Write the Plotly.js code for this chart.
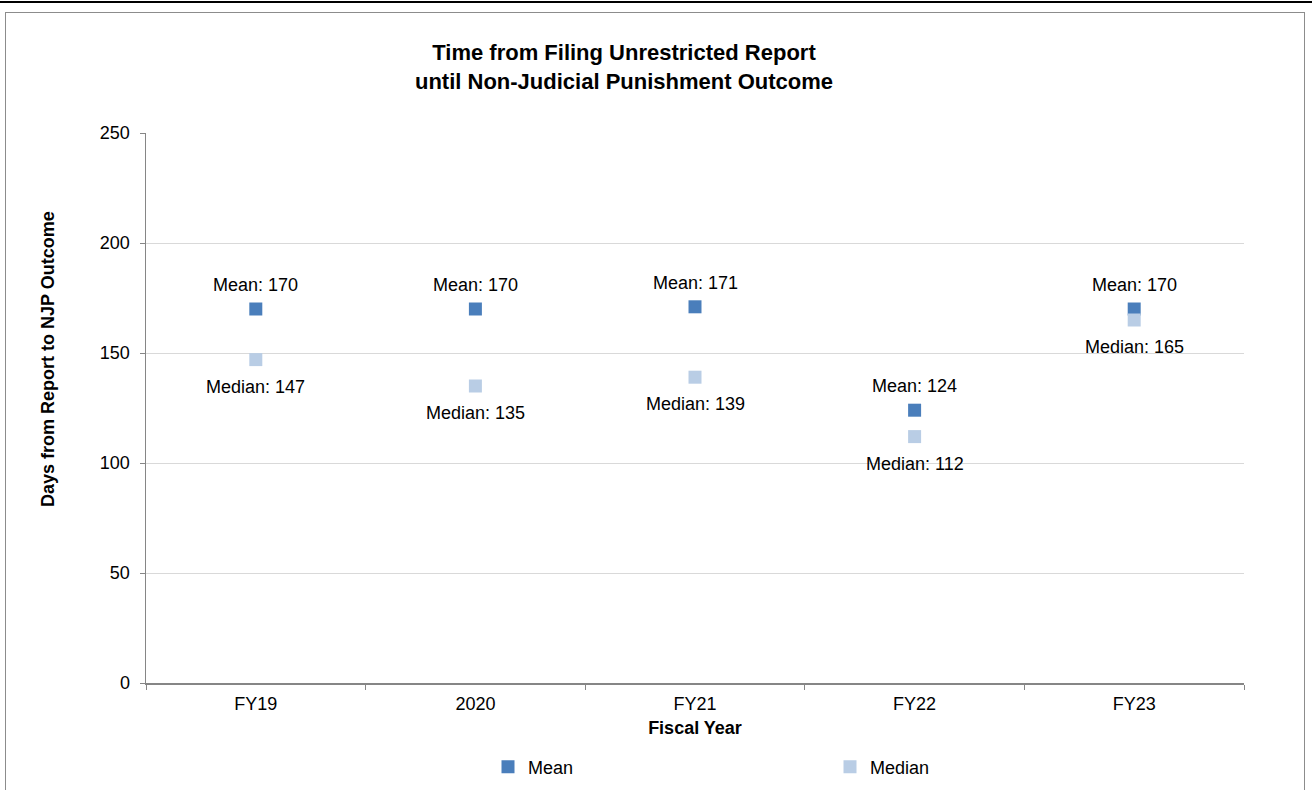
<!DOCTYPE html>
<html>
<head>
<meta charset="utf-8">
<script src="https://cdn.plot.ly/plotly-3.0.1.min.js"></script>
<style>
html,body{margin:0;padding:0;background:#fff;}
#wrap{position:relative;width:1312px;height:790px;overflow:hidden;}
#chart{position:absolute;left:0;top:0;width:1312px;height:790px;}
#topline{position:absolute;left:0;top:1px;width:1312px;height:2px;background:#000;pointer-events:none;}
#frame{position:absolute;left:5px;top:12px;width:1300px;height:800px;border:1px solid #8c8c8c;box-sizing:border-box;pointer-events:none;}
</style>
</head>
<body>
<div id="wrap">
<div id="chart"></div>
<div id="topline"></div>
<div id="frame"></div>
</div>
<script>
const categories = ["FY19", "2020", "FY21", "FY22", "FY23"];
const meanValues = [170, 170, 171, 124, 170];
const medianValues = [147, 135, 139, 112, 165];
const meanLabels = meanValues.map(v => "Mean: " + v);
const medianLabels = medianValues.map(v => "Median: " + v);

const FONT = "Liberation Sans, Arial, sans-serif";

const traces = [
  {
    type: "scatter", mode: "markers", name: "Mean",
    x: categories, y: meanValues,
    marker: {symbol: "square", size: 13, color: "#4a7ebb"},
    cliponaxis: false
  },
  {
    type: "scatter", mode: "markers", name: "Median",
    x: categories, y: medianValues,
    marker: {symbol: "square", size: 13, color: "#b9cde5"},
    cliponaxis: false
  }
];

const L = 146, R = 68, T = 133, B = 107;
const W = 1312, H = 790;
const pw = W - L - R, ph = H - T - B;

const labelAnnotations = [];
categories.forEach((c, i) => {
  // x given as category index so that numeric-looking names (e.g. "2020") map correctly
  labelAnnotations.push({
    x: i, y: meanValues[i], xref: "x", yref: "y",
    text: meanLabels[i], showarrow: false,
    xanchor: "center", yanchor: "middle", yshift: 24,
    font: {family: FONT, size: 18, color: "#000"}
  });
  labelAnnotations.push({
    x: i, y: medianValues[i], xref: "x", yref: "y",
    text: medianLabels[i], showarrow: false,
    xanchor: "center", yanchor: "middle", yshift: -27,
    font: {family: FONT, size: 18, color: "#000"}
  });
});

const layout = {
  width: W, height: H,
  margin: {l: L, r: R, t: T, b: B, pad: 0, autoexpand: false},
  paper_bgcolor: "rgba(0,0,0,0)",
  plot_bgcolor: "#fff",
  font: {family: FONT, size: 18, color: "#000"},
  title: {
    text: "<b>Time from Filing Unrestricted Report<br>until Non-Judicial Punishment Outcome</b>",
    font: {family: FONT, size: 22, color: "#000"},
    xref: "container", x: 624 / W, xanchor: "center",
    yref: "container", y: 1 - 60 / H, yanchor: "middle"
  },
  xaxis: {
    type: "category",
    range: [-0.5, 4.5],
    automargin: false,
    showline: true, linecolor: "#868686", linewidth: 1.5,
    showgrid: false, zeroline: false,
    ticks: "outside", tickson: "boundaries", ticklen: 5, tickcolor: "#868686",
    ticklabelstandoff: 4,
    tickfont: {family: FONT, size: 18, color: "#000"},
    title: {text: "<b>Fiscal Year</b>", font: {family: FONT, size: 18, color: "#000"}, standoff: 8}
  },
  yaxis: {
    range: [0, 250],
    automargin: false,
    tickvals: [0, 50, 100, 150, 200, 250],
    showline: true, linecolor: "#868686", linewidth: 1.5,
    showgrid: true, gridcolor: "#d9d9d9", gridwidth: 1,
    zeroline: false,
    ticks: "outside", ticklen: 5, tickcolor: "#868686",
    ticklabelstandoff: 6,
    tickfont: {family: FONT, size: 18, color: "#000"}
  },
  showlegend: true,
  legend: {
    orientation: "h",
    x: (488 - L) / pw, xanchor: "left", xref: "paper",
    y: -(767 - 683) / ph, yanchor: "middle", yref: "paper",
    entrywidth: 297, entrywidthmode: "pixels",
    font: {family: FONT, size: 18, color: "#000"},
    itemwidth: 30, bgcolor: "rgba(0,0,0,0)"
  },
  annotations: [
    {
      text: "<b>Days from Report to NJP Outcome</b>",
      xref: "paper", yref: "paper",
      x: (48 - L) / pw, y: (683 - 359) / ph,
      xanchor: "center", yanchor: "middle",
      textangle: -90, showarrow: false,
      font: {family: FONT, size: 18, color: "#000"}
    }
  ].concat(labelAnnotations)
};

Plotly.newPlot("chart", traces, layout, {displayModeBar: false, staticPlot: true});
</script>
</body>
</html>
